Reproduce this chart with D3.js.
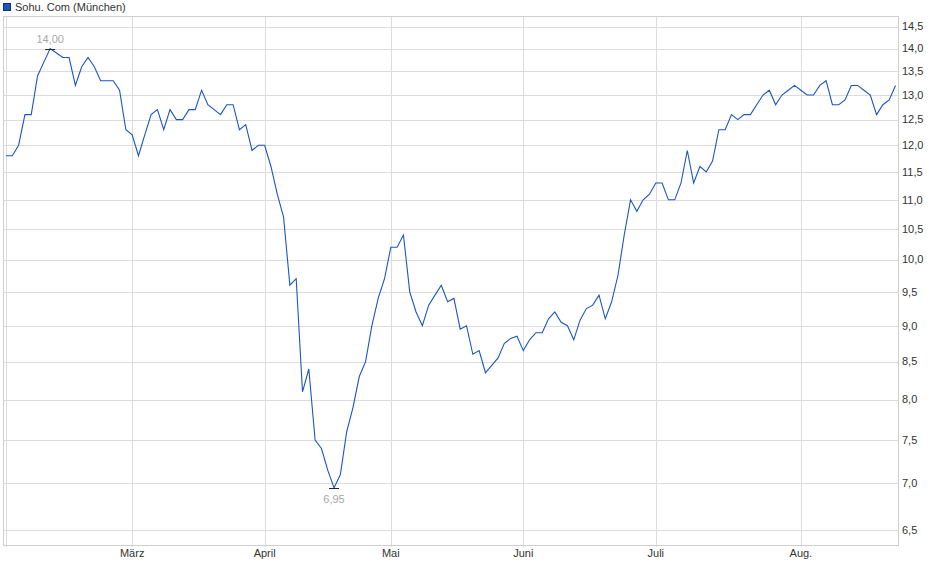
<!DOCTYPE html>
<html>
<head>
<meta charset="utf-8">
<script src="https://cdn.jsdelivr.net/npm/d3@7"></script>
<style>
    body { margin: 0; background: #fff; }
    text { font-family: "Liberation Sans", Arial, sans-serif; font-size: 11px; fill: #333; }
</style>
</head>
<body>
<svg id="chart" width="940" height="579"></svg>
<script>
// daily closes, one per trading day (Feb - Aug)
const values = [
    11.8, 11.8, 12.0, 12.6, 12.6, 13.4, 13.7, 14.0, 13.9, 13.8,
    13.8, 13.2, 13.6, 13.8, 13.6, 13.3, 13.3, 13.3, 13.1, 12.3,
    12.2, 11.8, 12.2, 12.6, 12.7, 12.3, 12.7, 12.5, 12.5, 12.7,
    12.7, 13.1, 12.8, 12.7, 12.6, 12.8, 12.8, 12.3, 12.4, 11.9,
    12.0, 12.0, 11.6, 11.1, 10.7, 9.6, 9.7, 8.1, 8.4, 7.5,
    7.4, 7.15, 6.95, 7.1, 7.6, 7.9, 8.3, 8.5, 9.0, 9.4,
    9.7, 10.2, 10.2, 10.4, 9.5, 9.2, 9.0, 9.3, 9.45, 9.6,
    9.35, 9.4, 8.95, 9.0, 8.6, 8.65, 8.35, 8.45, 8.55, 8.75,
    8.82, 8.85, 8.65, 8.8, 8.9, 8.9, 9.1, 9.2, 9.05, 9.0,
    8.8, 9.08, 9.25, 9.3, 9.45, 9.1, 9.35, 9.75, 10.4, 11.0,
    10.8, 11.0, 11.1, 11.3, 11.3, 11.0, 11.0, 11.3, 11.9, 11.3,
    11.6, 11.5, 11.7, 12.3, 12.3, 12.6, 12.5, 12.6, 12.6, 12.8,
    13.0, 13.1, 12.8, 13.0, 13.1, 13.2, 13.1, 13.0, 13.0, 13.2,
    13.3, 12.8, 12.8, 12.9, 13.2, 13.2, 13.1, 13.0, 12.6, 12.8,
    12.9, 13.2
];
const monthLabels = ["März", "April", "Mai", "Juni", "Juli", "Aug."];
const monthIndex = [20, 41, 61, 82, 103, 126];
const yTicks = [6.5, 7, 7.5, 8, 8.5, 9, 9.5, 10, 10.5, 11, 11.5, 12, 12.5, 13, 13.5, 14, 14.5];
const seriesName = "Sohu. Com (München)";

let svg = d3.select("#chart");

let plotLeft = 3, plotRight = 898, plotTop = 16, plotBottom = 545;

let x = d3.scaleLinear()
    .domain([0, values.length - 1])
    .range([6, 895.5]);

let y = d3.scaleLog()
    .domain([6.5, 14.5])
    .range([529.9, 26.5]);

let comma = (v, f) => d3.format(f)(v).replace(".", ",");

// horizontal grid
svg.append("g")
    .selectAll("line")
    .data(yTicks)
    .join("line")
    .attr("x1", plotLeft)
    .attr("x2", plotRight)
    .attr("y1", d => Math.round(y(d)) + 0.5)
    .attr("y2", d => Math.round(y(d)) + 0.5)
    .style("stroke", "#dcdcdc")

// vertical grid (months + first day)
svg.append("g")
    .selectAll("line")
    .data([0].concat(monthIndex))
    .join("line")
    .attr("x1", d => Math.round(x(d)) + 0.5)
    .attr("x2", d => Math.round(x(d)) + 0.5)
    .attr("y1", plotTop)
    .attr("y2", plotBottom + 2)
    .style("stroke", "#dcdcdc")

// frame
svg.append("rect")
    .attr("x", plotLeft + 0.5)
    .attr("y", plotTop + 0.5)
    .attr("width", plotRight - plotLeft)
    .attr("height", plotBottom - plotTop)
    .style("fill", "none")
    .style("stroke", "#cfcfcf")

// y labels
svg.append("g")
    .selectAll("text")
    .data(yTicks)
    .join("text")
    .attr("x", 902)
    .attr("y", d => y(d))
    .attr("dy", "0.35em")
    .text(d => comma(d, ".1f"))

// x labels
svg.append("g")
    .selectAll("text")
    .data(monthIndex)
    .join("text")
    .attr("x", d => x(d))
    .attr("y", 557)
    .attr("text-anchor", "middle")
    .text((d, i) => monthLabels[i])

// price line
let line = d3.line()
    .x((d, i) => x(i))
    .y(d => y(d));

svg.append("path")
    .datum(values)
    .attr("d", line)
    .style("fill", "none")
    .style("stroke", "#1a56c4")
    .style("stroke-width", 1.1)

// high / low markers
let iMax = d3.maxIndex(values);
let iMin = d3.minIndex(values);

[[iMax, -6], [iMin, 15]].forEach(function (m) {
    let px = x(m[0]), py = y(values[m[0]]);
    svg.append("line")
        .attr("x1", px - 5).attr("x2", px + 5)
        .attr("y1", Math.round(py) + 0.5).attr("y2", Math.round(py) + 0.5)
        .style("stroke", "#222")
    svg.append("text")
        .attr("x", px)
        .attr("y", py + m[1])
        .attr("text-anchor", "middle")
        .style("fill", "#a8a8a8")
        .text(comma(values[m[0]], ".2f"))
})

// legend
svg.append("rect")
    .attr("x", 3.5).attr("y", 3.5)
    .attr("width", 7).attr("height", 7)
    .style("fill", "#1a56c4")
    .style("stroke", "#1b2f66")
svg.append("text")
    .attr("x", 15)
    .attr("y", 10.5)
    .text(seriesName)
</script>
</body>
</html>
